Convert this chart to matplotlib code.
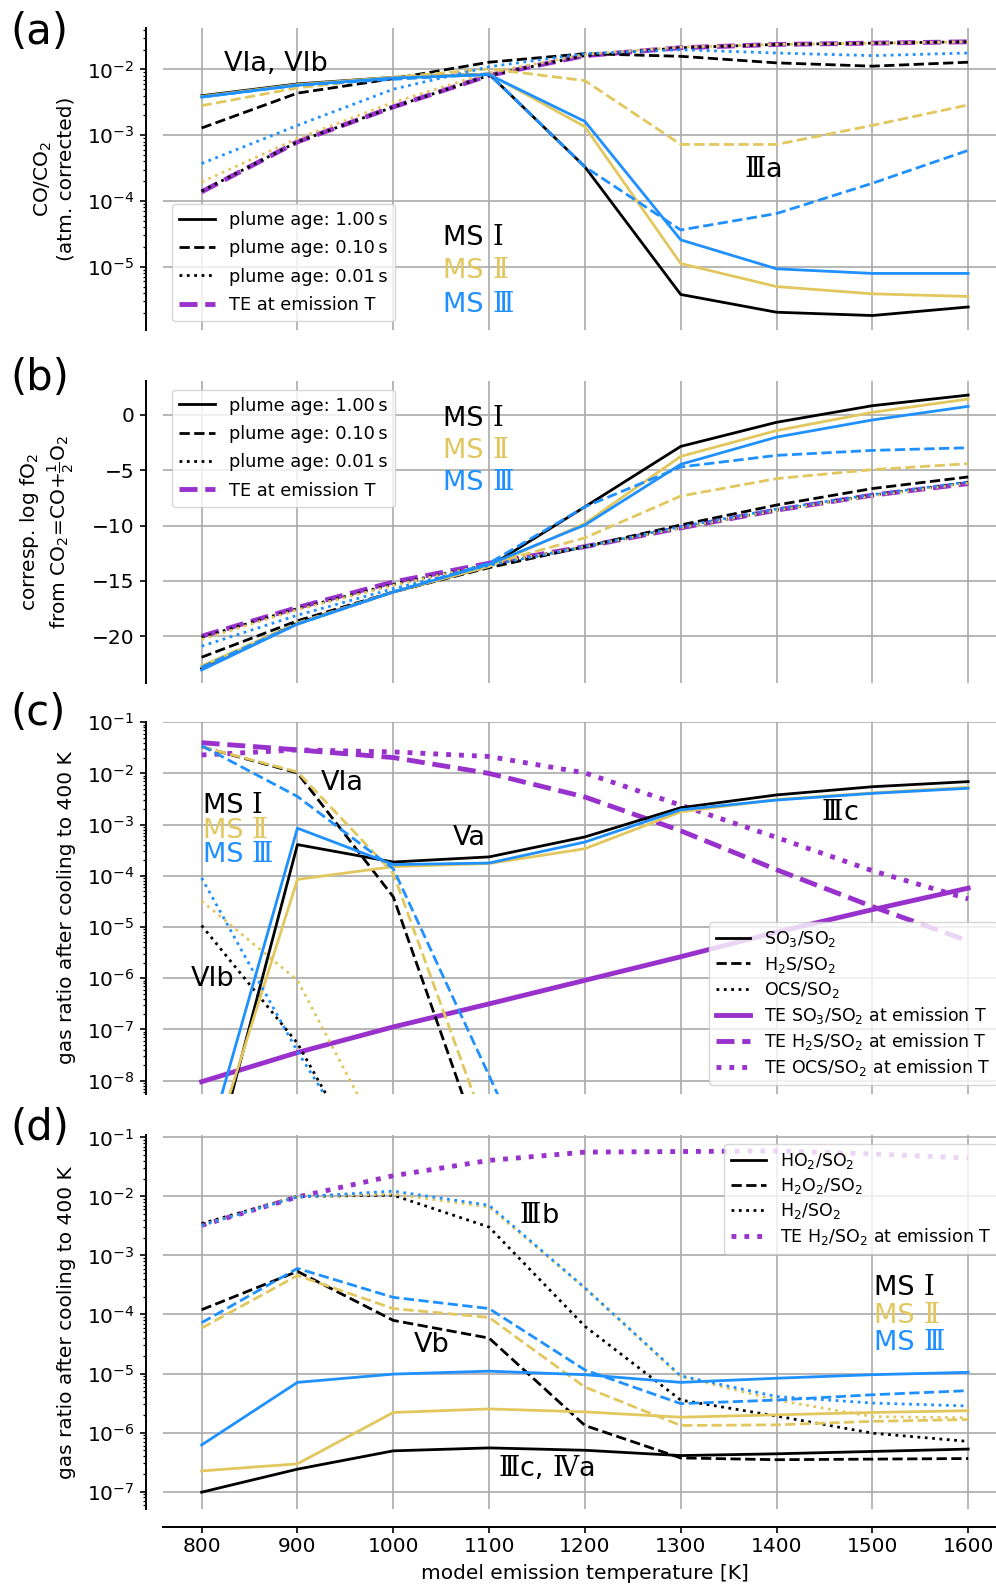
import numpy as np
import matplotlib
matplotlib.use("Agg")
import matplotlib.pyplot as plt
from matplotlib.lines import Line2D
from matplotlib.ticker import LogLocator

plt.rcParams['font.family'] = ['DejaVu Sans']
plt.rcParams['mathtext.fontset'] = 'dejavusans'
plt.rcParams['mathtext.default'] = 'regular'
plt.rcParams['font.size'] = 14.5

# emission temperatures [K]
T = [800, 900, 1000, 1100, 1200, 1300, 1400, 1500, 1600]

# (a) log10 CO/CO2 (atm. corrected); rows: MS I, MS II, MS III
a_solid = [[-2.40, -2.22, -2.12, -2.07, -3.48, -5.42, -5.69, -5.74, -5.61],
           [-2.41, -2.23, -2.12, -2.07, -2.87, -4.95, -5.30, -5.41, -5.45],
           [-2.42, -2.24, -2.13, -2.08, -2.79, -4.59, -5.03, -5.10, -5.10]]
a_dash = [[-2.89, -2.36, -2.14, -1.89, -1.76, -1.80, -1.90, -1.95, -1.89],
          [-2.55, -2.28, -2.12, -1.99, -2.17, -3.14, -3.14, -2.85, -2.54],
          [-2.42, -2.24, -2.15, -2.07, -3.48, -4.44, -4.19, -3.73, -3.23]]
a_dot = [[-3.85, -3.10, -2.57, -2.09, -1.79, -1.67, -1.62, -1.60, -1.58],
         [-3.71, -3.05, -2.50, -2.05, -1.77, -1.66, -1.62, -1.60, -1.58],
         [-3.43, -2.85, -2.30, -1.96, -1.76, -1.70, -1.75, -1.79, -1.75]]
a_te = [-3.86, -3.10, -2.57, -2.09, -1.79, -1.67, -1.62, -1.60, -1.58]

# (b) corresponding log fO2
b_solid = [[-22.9, -18.8, -16.0, -13.7, -8.3, -2.84, -0.66, 0.84, 1.8],
           [-22.7, -18.9, -16.0, -13.7, -9.8, -3.74, -1.41, 0.24, 1.44],
           [-23.05, -18.9, -16.0, -13.5, -9.94, -4.46, -2.0, -0.45, 0.78]]
b_dash = [[-21.9, -18.6, -16.0, -13.8, -11.9, -9.94, -8.14, -6.65, -5.6],
          [-22.7, -18.8, -16.0, -13.5, -11.1, -7.33, -5.75, -4.94, -4.40],
          [-22.8, -18.9, -16.0, -13.4, -8.3, -4.7, -3.65, -3.2, -2.96]]
b_dot = [[-20.1, -17.5, -15.3, -13.5, -11.9, -10.2, -8.6, -7.25, -6.1],
         [-20.3, -17.6, -15.4, -13.5, -11.9, -10.2, -8.6, -7.3, -6.15],
         [-20.9, -18.1, -15.7, -13.6, -11.9, -10.1, -8.5, -7.2, -6.05]]
b_te = [-20.0, -17.4, -15.1, -13.4, -11.9, -10.2, -8.6, -7.25, -6.2]

# (c) log10 gas ratios after cooling to 400 K (SO3, H2S, OCS over SO2)
nan = np.nan
c_solid = [[-10.5, -3.39, -3.73, -3.63, -3.24, -2.67, -2.42, -2.26, -2.16],
           [-10.0, -4.07, -3.82, -3.76, -3.47, -2.75, -2.51, -2.38, -2.27],
           [-9.65, -3.07, -3.78, -3.75, -3.34, -2.71, -2.52, -2.39, -2.29]]
c_dash = [[-1.48, -1.99, -4.41, -9.75, nan, nan, nan, nan, nan],
          [-1.48, -1.97, -3.95, -9.1, nan, nan, nan, nan, nan],
          [-1.46, -2.45, -3.86, -7.9, -12.0, nan, nan, nan, nan]]
c_dot = [[-4.97, -7.27, -10.6, nan, nan, nan, nan, nan, nan],
         [-4.49, -6.04, -9.6, nan, nan, nan, nan, nan, nan],
         [-4.04, -7.43, -10.4, nan, nan, nan, nan, nan, nan]]
c_te_so3 = [-8.02, -7.45, -6.95, -6.50, -6.04, -5.58, -5.10, -4.66, -4.24]
c_te_h2s = [-1.40, -1.54, -1.69, -2.00, -2.46, -3.12, -3.88, -4.60, -5.27]
c_te_ocs = [-1.64, -1.54, -1.58, -1.67, -1.99, -2.62, -3.25, -3.90, -4.45]

# (d) log10 gas ratios after cooling to 400 K (HO2, H2O2, H2 over SO2)
d_solid = [[-7.01, -6.62, -6.31, -6.26, -6.30, -6.39, -6.36, -6.32, -6.28],
           [-6.65, -6.53, -5.66, -5.60, -5.65, -5.74, -5.70, -5.66, -5.63],
           [-6.21, -5.15, -5.01, -4.96, -5.02, -5.15, -5.08, -5.02, -4.98]]
d_dash = [[-3.92, -3.27, -4.10, -4.40, -5.88, -6.43, -6.46, -6.45, -6.44],
          [-4.23, -3.34, -3.90, -4.05, -5.23, -5.88, -5.87, -5.81, -5.78],
          [-4.14, -3.22, -3.71, -3.90, -4.94, -5.51, -5.45, -5.36, -5.29]]
d_dot = [[-2.46, -2.00, -1.98, -2.52, -4.20, -5.45, -5.72, -6.01, -6.15],
         [-2.49, -2.00, -1.96, -2.18, -3.55, -5.05, -5.45, -5.73, -5.75],
         [-2.49, -2.01, -1.91, -2.15, -3.55, -5.04, -5.39, -5.50, -5.55]]
d_te = [-2.49, -2.01, -1.65, -1.39, -1.25, -1.24, -1.23, -1.28, -1.35]

ms_colors = ['black', '#e2c75f', '#1e90ff']
ms_nums = ['\u2160', '\u2161', '\u2162']
te_color = '#9932cc'
lw_ms = 2.0
lw_te = 3.5
DV = ['DejaVu Sans']
SERIF = ['DejaVu Serif']

W, H = 996, 1587
fig = plt.figure(figsize=(W / 100, H / 100), dpi=100)
renderer = fig.canvas.get_renderer()


def px_axes(top, bottom):
    left, right = 163.3, 1006.5
    return fig.add_axes([left / W, (H - bottom) / H, (right - left) / W, (bottom - top) / H])


ax_a = px_axes(28, 330)
ax_b = px_axes(380.7, 682.7)
ax_c = px_axes(721.7, 1094)
ax_d = px_axes(1135, 1509.3)
axes = [ax_a, ax_b, ax_c, ax_d]


def conv(vals, log):
    v = np.array(vals, dtype=float)
    return 10.0 ** v if log else v


def ms_lines(ax, solid, dash, dot, log=True):
    for i in range(3):
        c = ms_colors[i]
        ax.plot(T, conv(solid[i], log), color=c, lw=lw_ms, ls='-')
        ax.plot(T, conv(dash[i], log), color=c, lw=lw_ms, ls='--')
        ax.plot(T, conv(dot[i], log), color=c, lw=lw_ms, ls=':')


def rich_text(ax, x, y, parts, size=19.5, color='black', ha='left'):
    # text made of pieces in different fonts, laid out on one baseline
    base = -0.365 * size * 100 / 72
    texts, ox = [], 0.0
    for s, fam in parts:
        t = ax.annotate(s, xy=(x, y), xytext=(ox, base), textcoords='offset pixels',
                        fontsize=size, color=color, family=fam,
                        ha='left', va='baseline', annotation_clip=False)
        texts.append((t, ox))
        ox += t.get_window_extent(renderer).width
    if ha == 'center':
        for t, o in texts:
            t.xyann = (o - ox / 2, base)


def ms_labels(ax, x, ys):
    for num, c, y in zip(ms_nums, ms_colors, ys):
        rich_text(ax, x, y, [('MS ', DV), (num, SERIF)], color=c)


for ax in axes:
    ax.set_xlim(760, 1640)
    ax.set_xticks(T)
    ax.grid(True, which='major', color='#aaaaaa', lw=1.2)
    ax.set_axisbelow(True)
    ax.spines['top'].set_visible(False)
    ax.spines['right'].set_visible(False)
    ax.spines['left'].set_position(('outward', 12.7))
    ax.spines['left'].set_linewidth(1.4)
    ax.tick_params(axis='y', which='major', length=4.5, width=1.2, labelsize=14.5)
    ax.tick_params(axis='y', which='minor', length=2.5, width=0.9)
for ax in axes[:3]:
    ax.spines['bottom'].set_visible(False)
    ax.tick_params(axis='x', bottom=False, labelbottom=False)

# ---- (a)
ax_a.set_yscale('log')
ax_a.plot(T, conv(a_te, True), color=te_color, lw=lw_te, ls='--')
ms_lines(ax_a, a_solid, a_dash, a_dot)
ax_a.set_ylim(10 ** -5.96, 10 ** -1.37)
ax_a.set_ylabel('CO/CO$_2$\n(atm. corrected)')
ax_a.text(823, 10 ** -1.91, 'VIa, VIb', fontsize=19.5, ha='left', va='center')
rich_text(ax_a, 1386, 10 ** -3.48, [('\u2162', SERIF), ('a', DV)], ha='center')
ms_labels(ax_a, 1052, [10 ** -4.52, 10 ** -5.02, 10 ** -5.53])

age_handles = [Line2D([], [], color='black', lw=lw_ms, ls='-'),
               Line2D([], [], color='black', lw=lw_ms, ls='--'),
               Line2D([], [], color='black', lw=lw_ms, ls=':'),
               Line2D([], [], color=te_color, lw=lw_te, ls='--')]
age_labels = ['plume age: 1.00\u2009s', 'plume age: 0.10\u2009s',
              'plume age: 0.01\u2009s', 'TE at emission T']
ax_a.legend(age_handles, age_labels, loc='lower left', fontsize=12.8, labelspacing=0.58)

# ---- (b)
ax_b.plot(T, conv(b_te, False), color=te_color, lw=lw_te, ls='--')
ms_lines(ax_b, b_solid, b_dash, b_dot, log=False)
ax_b.set_ylim(-24.2, 3.1)
ax_b.set_yticks([0, -5, -10, -15, -20])
ax_b.set_ylabel('corresp. log fO$_2$\nfrom CO$_2$=CO+$\\frac{1}{2}$O$_2$')
ms_labels(ax_b, 1052, [-0.06, -2.96, -5.9])
ax_b.legend(age_handles, age_labels, loc='upper left', fontsize=12.8, labelspacing=0.58)

# ---- (c)
ax_c.set_yscale('log')
ax_c.plot(T, conv(c_te_so3, True), color=te_color, lw=lw_te, ls='-')
ax_c.plot(T, conv(c_te_h2s, True), color=te_color, lw=lw_te, ls='--')
ax_c.plot(T, conv(c_te_ocs, True), color=te_color, lw=lw_te, ls=':')
ms_lines(ax_c, c_solid, c_dash, c_dot)
ax_c.set_ylim(10 ** -8.26, 10 ** -0.99)
ax_c.yaxis.set_major_locator(LogLocator(base=10, numticks=20))
ax_c.set_ylabel('gas ratio after cooling to 400 K')
ms_labels(ax_c, 801, [10 ** -2.58, 10 ** -3.07, 10 ** -3.54])
ax_c.text(924, 10 ** -2.19, 'VIa', fontsize=19.5, ha='left', va='center')
ax_c.text(789, 10 ** -6.01, 'VIb', fontsize=19.5, ha='left', va='center')
ax_c.text(1079, 10 ** -3.27, 'Va', fontsize=19.5, ha='center', va='center')
rich_text(ax_c, 1466, 10 ** -2.72, [('\u2162', SERIF), ('c', DV)], ha='center')
c_handles = [Line2D([], [], color='black', lw=lw_ms, ls='-'),
             Line2D([], [], color='black', lw=lw_ms, ls='--'),
             Line2D([], [], color='black', lw=lw_ms, ls=':'),
             Line2D([], [], color=te_color, lw=lw_te, ls='-'),
             Line2D([], [], color=te_color, lw=lw_te, ls='--'),
             Line2D([], [], color=te_color, lw=lw_te, ls=':')]
c_labels = ['SO$_3$/SO$_2$', 'H$_2$S/SO$_2$', 'OCS/SO$_2$',
            'TE SO$_3$/SO$_2$ at emission T', 'TE H$_2$S/SO$_2$ at emission T',
            'TE OCS/SO$_2$ at emission T']
ax_c.legend(c_handles, c_labels, loc='lower right', fontsize=12.5, labelspacing=0.3)

# ---- (d)
ax_d.set_yscale('log')
ax_d.plot(T, conv(d_te, True), color=te_color, lw=lw_te, ls=':')
ms_lines(ax_d, d_solid, d_dash, d_dot)
ax_d.set_ylim(10 ** -7.3, 10 ** -0.96)
ax_d.yaxis.set_major_locator(LogLocator(base=10, numticks=20))
ax_d.set_ylabel('gas ratio after cooling to 400 K')
ms_labels(ax_d, 1502, [10 ** -3.5, 10 ** -3.98, 10 ** -4.43])
rich_text(ax_d, 1132, 10 ** -2.28, [('\u2162', SERIF), ('b', DV)])
ax_d.text(1040, 10 ** -4.52, 'Vb', fontsize=19.5, ha='center', va='center')
rich_text(ax_d, 1110, 10 ** -6.57, [('\u2162', SERIF), ('c, ', DV), ('\u2163', SERIF), ('a', DV)])
d_handles = [Line2D([], [], color='black', lw=lw_ms, ls='-'),
             Line2D([], [], color='black', lw=lw_ms, ls='--'),
             Line2D([], [], color='black', lw=lw_ms, ls=':'),
             Line2D([], [], color=te_color, lw=lw_te, ls=':')]
d_labels = ['HO$_2$/SO$_2$', 'H$_2$O$_2$/SO$_2$', 'H$_2$/SO$_2$', 'TE H$_2$/SO$_2$ at emission T']
ax_d.legend(d_handles, d_labels, loc='upper right', fontsize=12.5, labelspacing=0.3)
ax_d.spines['bottom'].set_position(('outward', 12.5))
ax_d.spines['bottom'].set_linewidth(1.4)
ax_d.tick_params(axis='x', length=4, width=1.2, labelsize=14.5)
ax_d.set_xlabel('model emission temperature [K]', labelpad=6)

for ax in axes:
    ax.yaxis.set_label_coords(-0.104, 0.5)

for letter, yc in zip(['(a)', '(b)', '(c)', '(d)'], [32, 378, 713, 1128]):
    fig.text(10 / W, 1 - yc / H, letter, fontsize=30, ha='left', va='center')

fig.savefig('out.png', dpi=100)
